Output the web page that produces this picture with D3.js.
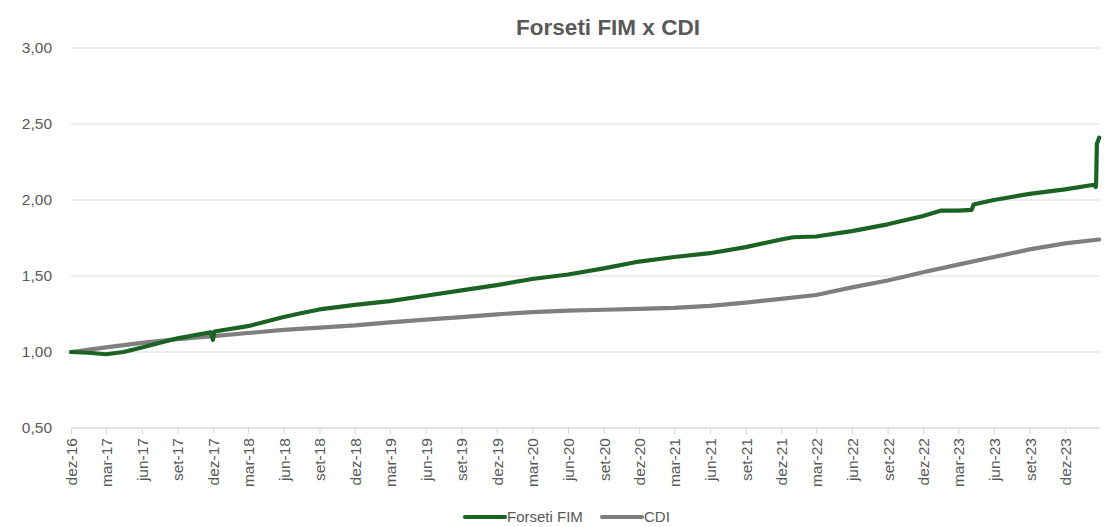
<!DOCTYPE html>
<html>
<head>
<meta charset="utf-8">
<script src="https://cdn.jsdelivr.net/npm/d3@7"></script>
<style>
  body { margin: 0; background: #fff; }
  svg text { font-family: "Liberation Sans", Arial, sans-serif; fill: #595959; }
</style>
</head>
<body>
<svg id="chart"></svg>
<script>
var svgW = 1108,
    svgH = 527;

// Forseti FIM (base 1,00)
var fimDates = [
  "2016-12-01", "2017-01-15", "2017-03-01", "2017-04-15", "2017-06-01", "2017-09-01",
  "2017-11-25", "2017-12-01", "2017-12-05", "2018-03-01", "2018-06-01", "2018-07-15",
  "2018-09-01", "2018-12-01", "2019-03-01", "2019-06-01", "2019-09-01", "2019-12-01",
  "2020-03-01", "2020-06-01", "2020-09-01", "2020-12-01", "2021-03-01", "2021-06-01",
  "2021-09-01", "2021-12-01", "2022-01-01", "2022-03-01", "2022-06-01", "2022-09-01",
  "2022-12-01", "2023-01-15", "2023-03-01", "2023-04-05", "2023-04-10", "2023-06-01",
  "2023-09-01", "2023-12-01", "2024-02-14", "2024-02-18", "2024-02-19", "2024-02-21",
  "2024-02-27"
];
var fimValues = [
  1.00, 0.995, 0.985, 1.00, 1.03, 1.09,
  1.13, 1.08, 1.135, 1.17, 1.23, 1.255,
  1.28, 1.31, 1.335, 1.37, 1.405, 1.44,
  1.48, 1.51, 1.55, 1.595, 1.625, 1.65,
  1.69, 1.74, 1.755, 1.76, 1.795, 1.84,
  1.895, 1.93, 1.93, 1.935, 1.97, 2.00,
  2.04, 2.07, 2.10, 2.085, 2.11, 2.37,
  2.41
];

// CDI (base 1,00)
var cdiDates = [
  "2016-12-01", "2017-03-01", "2017-06-01", "2017-09-01", "2017-12-01", "2018-03-01",
  "2018-06-01", "2018-09-01", "2018-12-01", "2019-03-01", "2019-06-01", "2019-09-01",
  "2019-12-01", "2020-03-01", "2020-06-01", "2020-09-01", "2020-12-01", "2021-03-01",
  "2021-06-01", "2021-09-01", "2021-12-01", "2022-03-01", "2022-06-01", "2022-09-01",
  "2022-12-01", "2023-03-01", "2023-06-01", "2023-09-01", "2023-12-01", "2024-02-27"
];
var cdiValues = [
  1.00, 1.03, 1.06, 1.085, 1.105, 1.125,
  1.145, 1.16, 1.175, 1.195, 1.213, 1.23,
  1.248, 1.262, 1.272, 1.278, 1.284, 1.29,
  1.303, 1.325, 1.35, 1.375, 1.425, 1.47,
  1.525, 1.575, 1.625, 1.675, 1.715, 1.74
];

var seriesNames = ["Forseti FIM", "CDI"];
var seriesColors = ["#1b6323", "#7f7f7f"];
var yTicks = [0.5, 1.0, 1.5, 2.0, 2.5, 3.0];
var monthsPt = ["jan", "fev", "mar", "abr", "mai", "jun", "jul", "ago", "set", "out", "nov", "dez"];
var xStart = "2016-12-01", xEnd = "2024-02-29", tickEnd = "2023-12-01";

var parse = d3.timeParse("%Y-%m-%d");

var x = d3.scaleTime()
  .domain([parse(xStart), parse(xEnd)])
  .range([71, 1100]);
var y = d3.scaleLinear()
  .domain([0.5, 3.0])
  .range([428, 48]);

var svg = d3.select("#chart").attr("width", svgW).attr("height", svgH);

// gridlines
svg.append("g").selectAll("line")
  .data(yTicks).enter().append("line")
  .attr("x1", 71).attr("x2", 1100)
  .attr("y1", function (d) { return y(d); })
  .attr("y2", function (d) { return y(d); })
  .attr("stroke", "#d9d9d9")
  .attr("stroke-width", 1.2);

// y labels
svg.append("g").selectAll("text")
  .data(yTicks).enter().append("text")
  .attr("x", 52)
  .attr("y", function (d) { return y(d); })
  .attr("dy", "0.35em")
  .attr("text-anchor", "end")
  .style("font-size", "15.5px")
  .text(function (d) { return d3.format(".2f")(d).replace(".", ","); });

// x axis, quarterly ticks starting at dez-16
var xTickDates = d3.timeMonth.range(parse(xStart), d3.timeDay.offset(parse(tickEnd), 1), 3);
var xAxis = d3.axisBottom(x)
  .tickValues(xTickDates)
  .tickSize(6)
  .tickFormat(function (d) {
    return monthsPt[d.getMonth()] + "-" + String(d.getFullYear()).slice(2);
  });

var gx = svg.append("g")
  .attr("transform", "translate(0,428)")
  .call(xAxis);
gx.select(".domain").attr("stroke", "#d9d9d9").attr("stroke-width", 1.2)
  .attr("d", "M71,0H1100");
gx.selectAll(".tick line").attr("stroke", "#d9d9d9").attr("stroke-width", 1.2);
gx.selectAll(".tick text")
  .style("font-size", "15.5px")
  .style("font-family", "'Liberation Sans', Arial, sans-serif")
  .attr("fill", "#595959")
  .attr("text-anchor", "end")
  .attr("transform", "rotate(-90)")
  .attr("x", -10)
  .attr("y", 0)
  .attr("dy", "0.35em");

// lines
var line = d3.line()
  .x(function (d) { return x(d.date); })
  .y(function (d) { return y(d.value); });

function toPoints(dates, values) {
  return dates.map(function (d, i) { return { date: parse(d), value: values[i] }; });
}

var seriesData = [toPoints(fimDates, fimValues), toPoints(cdiDates, cdiValues)];

// CDI drawn first, fund on top
[1, 0].forEach(function (i) {
  svg.append("path")
    .datum(seriesData[i])
    .attr("d", line)
    .attr("fill", "none")
    .attr("stroke", seriesColors[i])
    .attr("stroke-width", 4.2)
    .attr("stroke-linejoin", "round")
    .attr("stroke-linecap", "round");
});

// title
svg.append("text")
  .attr("x", 608)
  .attr("y", 35)
  .attr("text-anchor", "middle")
  .style("font-size", "22.5px")
  .style("font-weight", "bold")
  .text("Forseti FIM x CDI");

// legend
var legendX = [465, 602];
var legend = svg.append("g").selectAll("g")
  .data(seriesNames).enter().append("g")
  .attr("transform", function (d, i) { return "translate(" + legendX[i] + ",517)"; });
legend.append("line")
  .attr("x1", 0).attr("x2", 40)
  .attr("stroke", function (d, i) { return seriesColors[i]; })
  .attr("stroke-width", 4.2)
  .attr("stroke-linecap", "round");
legend.append("text")
  .attr("x", 42)
  .attr("dy", "0.35em")
  .style("font-size", "15px")
  .text(function (d) { return d; });
</script>
</body>
</html>
